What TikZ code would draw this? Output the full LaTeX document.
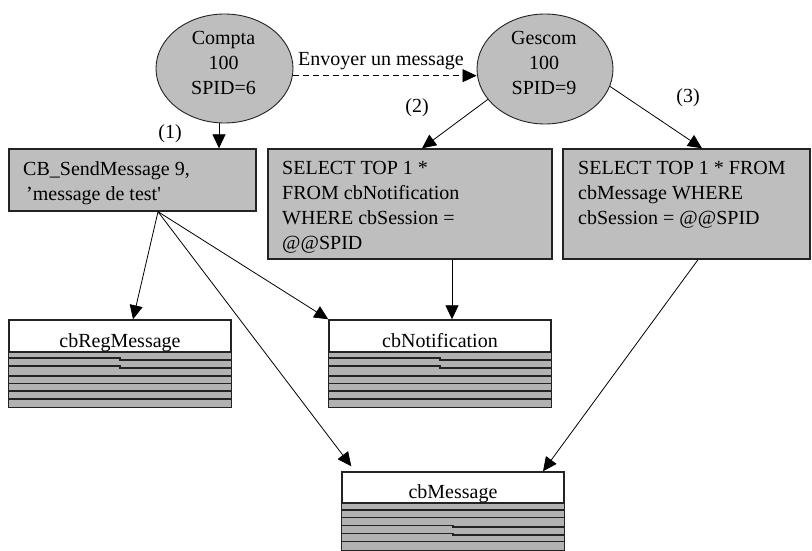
\documentclass[tikz,border=0pt]{standalone}
\usepackage{fontspec}
\setmainfont{Liberation Serif}
\usetikzlibrary{arrows.meta,shapes.geometric}
\definecolor{fillgray}{RGB}{190,190,190}
\definecolor{stripegray}{RGB}{178,178,178}
\definecolor{edgedark}{RGB}{35,35,35}
\tikzset{
  txt/.style={font=\fontsize{20pt}{25pt}\selectfont, inner sep=0pt},
  proc/.style={ellipse, draw=edgedark, line width=0.9pt, fill=fillgray, inner sep=0pt},
  sqlbox/.style={rectangle, draw=edgedark, line width=1.4pt, fill=fillgray, inner sep=0pt},
  tablebox/.style={rectangle, draw=edgedark, line width=1.4pt, fill=white, inner sep=0pt, minimum width=222pt},
  conn/.style={draw=black, line width=0.8pt, -{Triangle[length=14pt,width=13pt]}},
  dashconn/.style={conn, dash pattern=on 6.5pt off 3.5pt},
  stripeline/.style={draw=edgedark, line width=1.2pt},
  tableedge/.style={draw=edgedark, line width=1.4pt},
}
\newcommand\stripesStd[2]{%
  \begin{scope}[shift={(#1,#2)}]
    \fill[stripegray] (0,0) rectangle (222,55);
    \draw[stripeline] (0,0) -- (222,0);
    \draw[stripeline] (0,6) -- (111,6) -- (111,8) -- (222,8);
    \draw[stripeline] (0,14) -- (111,14) -- (111,16) -- (222,16);
    \foreach \yy in {24,31.5,39,47} \draw[stripeline] (0,\yy) -- (222,\yy);
  \end{scope}}
\newcommand\stripesMsg[2]{%
  \begin{scope}[shift={(#1,#2)}]
    \fill[stripegray] (0,0) rectangle (222,47);
    \draw[stripeline] (0,0) -- (222,0);
    \draw[stripeline] (0,7) -- (222,7);
    \draw[stripeline] (0,14.5) -- (222,14.5);
    \draw[stripeline] (0,22.5) -- (111,22.5) -- (111,24) -- (222,24);
    \draw[stripeline] (0,30.5) -- (111,30.5) -- (111,32) -- (222,32);
    \draw[stripeline] (0,38.7) -- (222,38.7);
  \end{scope}}
\begin{document}
\begin{tikzpicture}[x=1pt,y=-1pt]
\useasboundingbox[fill=white] (0,0) rectangle (812,551);

% processes
\node[proc, minimum width=137pt, minimum height=109pt] (compta) at (224.5,68.5) {};
\node[txt, align=center] (comptat) at (223.5,63) {Compta\\100\\SPID=6};
\node[proc, minimum width=136pt, minimum height=110pt] (gescom) at (545,69) {};
\node[txt, align=center] (gescomt) at (544,63) {Gescom\\100\\SPID=9};

% SQL boxes
\node[sqlbox, minimum width=247pt, minimum height=62pt] (box1) at (132.5,180) {};
\node[txt, anchor=north west, align=left] (box1t) at (23,161)
  {CB\_SendMessage 9,\\\hspace{3pt}\textquoteright message de test\textquotesingle};
\node[sqlbox, minimum width=284pt, minimum height=110pt] (box2) at (410,204) {};
\node[txt, anchor=north west, align=left] (box2t) at (282,161)
  {SELECT TOP 1 *\\FROM cbNotification\\WHERE cbSession =\\@@SPID};
\node[sqlbox, minimum width=247pt, minimum height=110pt] (box3) at (686.5,204) {};
\node[txt, anchor=north west, align=left] (box3t) at (578,161)
  {SELECT TOP 1 * FROM\\cbMessage WHERE\\cbSession = @@SPID};

% tables
\node[tablebox, minimum height=87pt] (reg) at (120,363.5) {};
\stripesStd{9}{352}
\draw[tableedge] (reg.north west) rectangle (reg.south east);
\node[txt, anchor=base] (regname) at (120,347) {cbRegMessage};

\node[tablebox, minimum height=87pt] (notif) at (440,363.5) {};
\stripesStd{329}{352}
\draw[tableedge] (notif.north west) rectangle (notif.south east);
\node[txt, anchor=base] (notifname) at (440,347) {cbNotification};

\node[tablebox, minimum height=78pt] (msg) at (453,511) {};
\stripesMsg{342}{503}
\draw[tableedge] (msg.north west) rectangle (msg.south east);
\node[txt, anchor=base] (msgname) at (453,498) {cbMessage};

% labels
\node[txt] (lab1) at (170,134) {(1)};
\node[txt] (lab2) at (417,108) {(2)};
\node[txt] (lab3) at (688,98) {(3)};
\node[txt, anchor=base] (envoi) at (381,66) {Envoyer un message};

% connectors
\draw[conn] ([xshift=-5.5pt]compta.south) -- ([xshift=-5.5pt]compta.south |- box1.north);
\draw[dashconn] (compta.-6) -- (compta.-6 -| gescom.west);
\draw[conn] (gescom.208) -- ([xshift=12pt]box2.north);
\draw[conn] (gescom.-15) -- ([xshift=15.5pt]box3.north);
\draw[conn] ([xshift=42pt]box2.south) -- ([xshift=12pt]notif.north);
\draw[conn] ([xshift=11.5pt]box3.south) -- ([xshift=90pt]msg.north);
\draw[conn] ([xshift=25.5pt]box1.south) -- ([xshift=13pt]reg.north);
\draw[conn] ([xshift=25.5pt]box1.south) -- (notif.north west);
\draw[conn] ([xshift=25.5pt]box1.south) -- ([xshift=10pt,yshift=5pt]msg.north west);
\end{tikzpicture}
\end{document}
